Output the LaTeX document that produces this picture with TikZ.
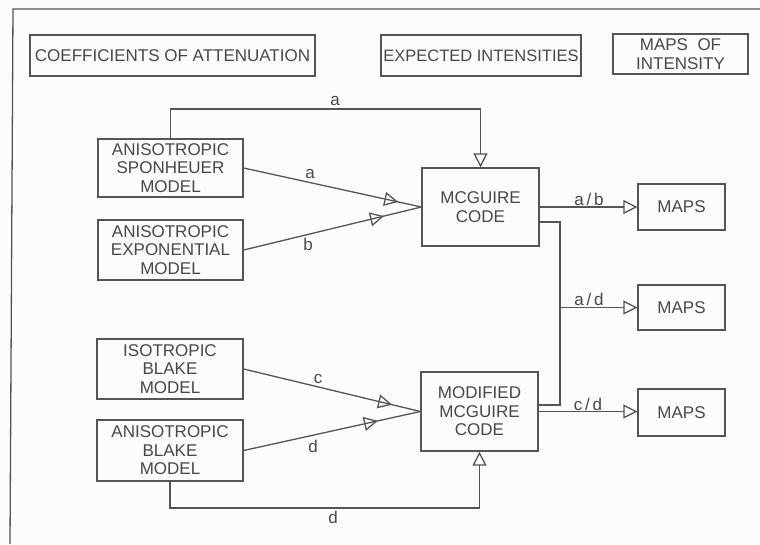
\documentclass[tikz,border=0pt]{standalone}
\usepackage{fontspec}
\setmainfont{Liberation Sans}
\usetikzlibrary{arrows.meta,decorations.markings,calc}
\definecolor{ink}{HTML}{555555}
\definecolor{txt}{HTML}{484848}
\definecolor{paper}{HTML}{FCFCFA}
\tikzset{
  box/.style={draw=ink, line width=1.3pt, text=txt, align=center, inner sep=0pt,
    font=\fontsize{17}{18.5}\selectfont},
  conn/.style={draw=ink, line width=1.3pt},
  tip/.style={-{Triangle[open,length=14pt,width=14pt,line width=1.3pt]}},
  midtip/.style={postaction={decorate}, decoration={markings,
    mark=at position #1 with {\arrow{Triangle[open,length=14pt,width=14pt,line width=1.3pt]}}}},
  lab/.style={text=txt, font=\fontsize{17}{18}\selectfont, inner sep=0pt}
}
\begin{document}
\begin{tikzpicture}[x=1pt,y=-1pt]
\fill[paper] (0,0) rectangle (760,544);
\useasboundingbox (0,0) rectangle (760,544);
% frame
\draw[conn] (760,9) -- (13,9) -- (10,544);
% header boxes
\node[box, minimum width=285pt, minimum height=41pt] (coef) at (172.5,55.5) {COEFFICIENTS OF ATTENUATION};
\node[box, minimum width=200pt, minimum height=41pt] (expi) at (481,55.5) {\fontsize{16.5}{18.5}\selectfont EXPECTED INTENSITIES};
\node[box, minimum width=135pt, minimum height=40pt] (mapi) at (680.5,54) {MAPS\ \ OF\\INTENSITY};
% model boxes
\node[box, minimum width=145pt, minimum height=58pt] (sp) at (170.5,168) {ANISOTROPIC\\SPONHEUER\\MODEL};
\node[box, minimum width=145pt, minimum height=60pt] (ex) at (170.5,250) {ANISOTROPIC\\EXPONENTIAL\\MODEL};
\node[box, minimum width=146pt, minimum height=60pt] (iso) at (170,369) {ISOTROPIC\\BLAKE\\MODEL};
\node[box, minimum width=146pt, minimum height=61pt] (ab) at (170,450.5) {ANISOTROPIC\\BLAKE\\MODEL};
% code boxes
\node[box, minimum width=117pt, minimum height=78pt] (mc) at (480.5,207) {MCGUIRE\\CODE};
\node[box, minimum width=117pt, minimum height=79pt] (mm) at (479.5,411.5) {MODIFIED\\MCGUIRE\\CODE};
% maps
\node[box, minimum width=87pt, minimum height=46pt] (m1) at (681.5,207) {MAPS};
\node[box, minimum width=87pt, minimum height=45pt] (m2) at (681.5,307.5) {MAPS};
\node[box, minimum width=87pt, minimum height=47pt] (m3) at (681.5,412.5) {MAPS};
% connectors
\draw[conn, tip] (sp.north) -- (sp.north |- 0,109) -| (mc.north);
\node[lab] at (335,101) {a};
\draw[conn, midtip=0.87] (sp.east) -- (mc.west);
\node[lab] at (310,174) {a};
\draw[conn, midtip=0.79] (ex.east) -- (mc.west);
\node[lab] at (308,244) {b};
\draw[conn, midtip=0.84] (iso.east) -- (mm.west);
\node[lab] at (318,379) {c};
\draw[conn, midtip=0.76] (ab.east) -- (mm.west);
\node[lab] at (313,446) {d};
\draw[conn, tip] (ab.south) -- (ab.south |- 0,508) -| (mm.south);
\node[lab] at (333,517) {d};
% outputs
\draw[conn, tip] (mc.east) -- (m1.west);
\node[lab] at (589,199) {a\,/\,b};
\coordinate (j1) at (560,222);
\coordinate (j2) at (560,405);
\draw[conn] (mc.east |- j1) -- (j1) -- (j2) -- (mm.east |- j2);
\draw[conn, tip] (j1 |- m2.west) -- (m2.west);
\node[lab] at (589,299) {a\,/\,d};
\draw[conn, tip] (mm.east) -- (mm.east -| m3.west);
\node[lab] at (588,404) {c\,/\,d};
\end{tikzpicture}
\end{document}
